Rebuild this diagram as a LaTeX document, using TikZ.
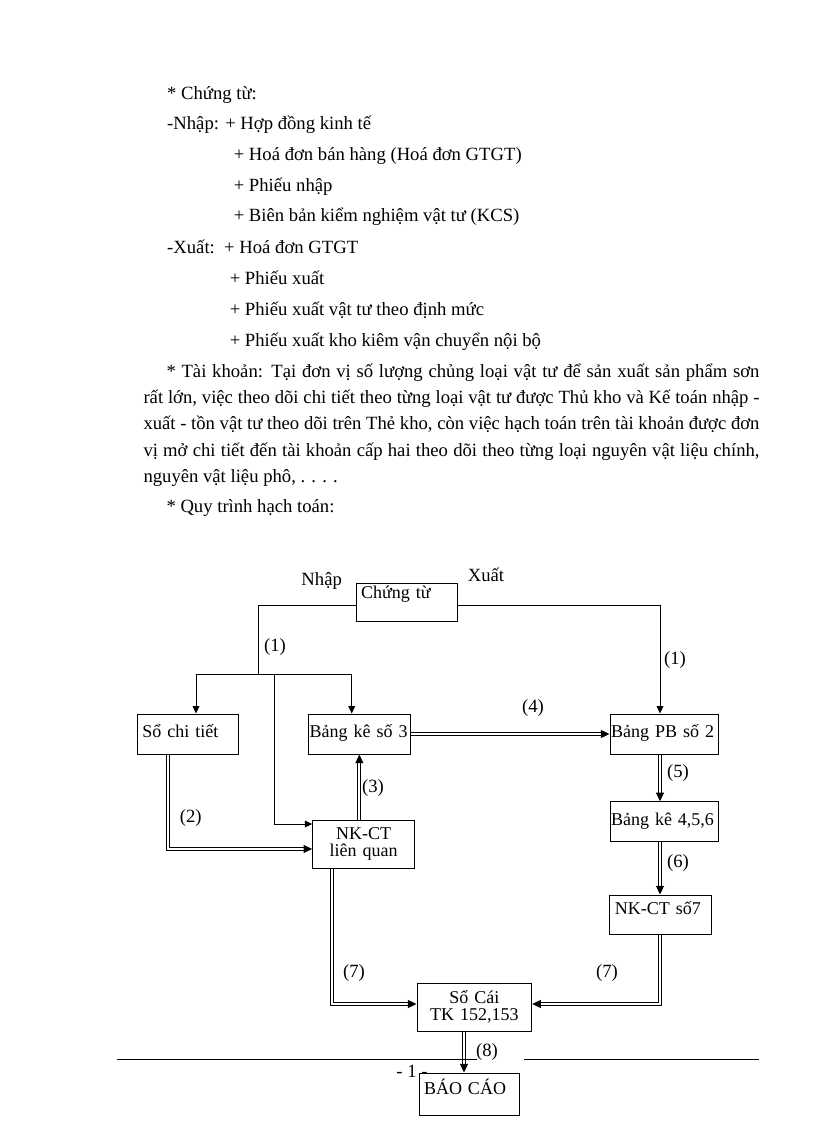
\documentclass[tikz,border=0pt]{standalone}
\usepackage{fontspec}
\setmainfont{Liberation Serif}
\usetikzlibrary{arrows.meta}

\tikzset{every picture/.style={line width=0.75pt}}
\tikzset{
  bodytext/.style={anchor=base west, inner sep=0pt, font=\fontsize{14}{17}\selectfont},
  numlabel/.style={inner sep=0pt, font=\fontsize{14}{17}\selectfont},
  flowbox/.style={draw, inner ysep=0pt, inner xsep=3.75pt, align=left, text height=10pt, text depth=5pt, minimum height=30pt, font=\fontsize{13.5}{17}\selectfont},
  twolinebox/.style={draw, inner sep=0pt, align=center, minimum height=36pt, font=\fontsize{13.5}{12.75}\selectfont},
  thinarrow/.style={-{Triangle[length=5.5pt,width=5pt]}},
  dblarrow/.style={double, double distance=1.5pt, -{Triangle[length=6.5pt,width=6pt]}},
}

\begin{document}
\begin{tikzpicture}[x=0.75pt,y=0.75pt,yscale=-1,xscale=1]
\useasboundingbox (0,0) rectangle (816,1123);

% Text Node
\node[bodytext] (t1) at (166.7,100) {* Chứng từ:};
% Text Node
\node[bodytext] (t2) at (166.7,130) {-Nhập: + Hợp đồng kinh tế};
% Text Node
\node[bodytext] (t3) at (233.3,161) {+ Hoá đơn bán hàng (Hoá đơn GTGT)};
% Text Node
\node[bodytext] (t4) at (233.3,191.7) {+ Phiếu nhập};
% Text Node
\node[bodytext] (t5) at (233.3,222) {+ Biên bản kiểm nghiệm vật tư (KCS)};
% Text Node
\node[bodytext] (t6) at (166.7,253) {-Xuất:\ \ + Hoá đơn GTGT};
% Text Node
\node[bodytext] (t7) at (229.3,284) {+ Phiếu xuất};
% Text Node
\node[bodytext] (t8) at (229.3,315) {+ Phiếu xuất vật tư theo định mức};
% Text Node
\node[bodytext] (t9) at (229.3,346) {+ Phiếu xuất kho kiêm vận chuyển nội bộ};

% Text Node
\node[bodytext] (p1) at (166,377) {\hbox to 444.75pt{* Tài khoản: Tại đơn vị số lượng chủng loại vật tư để sản xuất sản phẩm sơn}};
% Text Node
\node[bodytext] (p2) at (143,403) {\hbox to 462pt{rất lớn, việc theo dõi chi tiết theo từng loại vật tư được Thủ kho và Kế toán nhập -}};
% Text Node
\node[bodytext] (p3) at (143,429) {\hbox to 462pt{xuất - tồn vật tư theo dõi trên Thẻ kho, còn việc hạch toán trên tài khoản được đơn}};
% Text Node
\node[bodytext] (p4) at (143,456) {\hbox to 462pt{vị mở chi tiết đến tài khoản cấp hai theo dõi theo từng loại nguyên vật liệu chính,}};
% Text Node
\node[bodytext] (p5) at (143,482) {nguyên vật liệu phô, . . . .};
% Text Node
\node[bodytext] (p6) at (166,512) {* Quy trình hạch toán:};

%Shape: Rectangle
\node[flowbox, text width=68.6pt, minimum height=28.5pt, text height=11pt, text depth=17pt] (ct) at (406.75,602) {\mbox{Chứng từ}};
\node[flowbox, text width=68.25pt] (sct) at (187.8,734) {\mbox{Sổ chi tiết}};
\node[flowbox, inner xsep=0.75pt, text width=74.5pt] (bk3) at (359.35,734) {\mbox{Bảng kê số 3}};
\node[flowbox, inner xsep=0.75pt, text width=79.7pt] (pb2) at (664.15,734) {\mbox{Bảng PB số 2}};
\node[flowbox, inner xsep=0.75pt, text width=79.5pt] (bk456) at (664,821.7) {\mbox{Bảng kê 4,5,6}};
\node[flowbox, text width=68.8pt, minimum height=29.25pt, text depth=10pt] (nk7) at (660.85,914.5) {\mbox{NK-CT số7}};
\node[twolinebox, text width=76.5pt] (nklq) at (363.7,844) {NK-CT\\liên quan};
\node[twolinebox, text width=86pt] (socai) at (474.35,1007) {Sổ Cái\\TK 152,153};
\node[flowbox, text width=67.5pt, minimum height=31.5pt, text depth=9pt] (bc) at (469,1094) {\mbox{BÁO CÁO}};

\coordinate (nhapbend) at (258.3,674);
\coordinate (brleft) at (196,674);
\coordinate (brmid) at (274,674);
\coordinate (brright) at (351.7,674);
\coordinate (lqbend) at (274,824);
\coordinate (sctbend) at (167.7,849);
\coordinate (rcol) at (660,0);
\coordinate (rbend) at (660,1004);
\coordinate (lbend) at (331.7,1004);
\coordinate (bccol) at (464,0);

%Straight Lines
\draw ([yshift=2.25pt]ct.west) -| (nhapbend);
\draw (brleft) -- (brright);
\draw[thinarrow] (brleft) -- (brleft |- sct.north);
\draw[thinarrow] (brright) -- (brright |- bk3.north);
\draw[thinarrow] (brmid) -- (lqbend) -- (lqbend -| nklq.west);
\draw[thinarrow] ([yshift=2.25pt]ct.east) -| (rcol |- pb2.north);

%Double Lines
\draw[dblarrow] (sctbend |- sct.south) -- (sctbend) -- (sctbend -| nklq.west);
\draw[dblarrow] (bk3.south |- nklq.north) -- (bk3.south);
\draw[dblarrow] (bk3.east) -- (pb2.west);
\draw[dblarrow] (rcol |- pb2.south) -- (rcol |- bk456.north);
\draw[dblarrow] (rcol |- bk456.south) -- (rcol |- nk7.north);
\draw[dblarrow] (rcol |- nk7.south) -- (rbend) -- (rbend -| socai.east);
\draw[dblarrow] (lbend |- nklq.south) -- (lbend) -- (lbend -| socai.west);
\draw[dblarrow] (bccol |- socai.south) -- (bccol |- bc.north);

% Text Node
\node[numlabel] (nhap) at (321.7,580.7) {Nhập};
\node[numlabel] (xuat) at (486,575) {Xuất};
\node[numlabel] (n1a) at (275,647) {(1)};
\node[numlabel] (n1b) at (675,660) {(1)};
\node[numlabel] (n2) at (190.7,818) {(2)};
\node[numlabel] (n3) at (373,788) {(3)};
\node[numlabel] (n4) at (533,708) {(4)};
\node[numlabel] (n5) at (678,773) {(5)};
\node[numlabel] (n6) at (678,863) {(6)};
\node[numlabel] (n7a) at (354,973) {(7)};
\node[numlabel] (n7b) at (607,973) {(7)};
\node[numlabel] (n8) at (487,1052) {(8)};

%Footer
\draw (117,1059) -- (477,1059);
\draw (524,1059) -- (759,1059);
\node[numlabel] (pagenum) at (412,1071) {- 1 -};

\end{tikzpicture}
\end{document}
